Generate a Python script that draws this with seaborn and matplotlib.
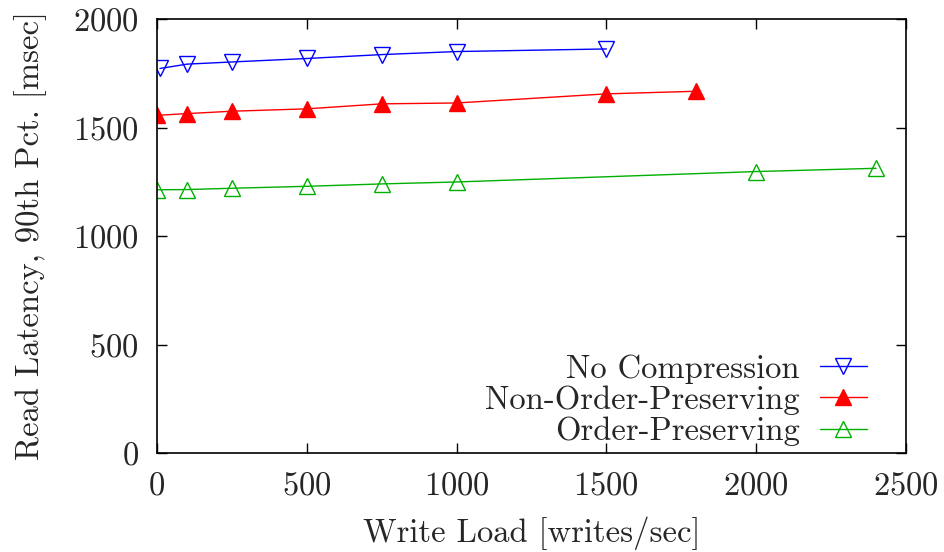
import matplotlib
matplotlib.use("Agg")
import matplotlib.pyplot as plt
import seaborn as sns

# write load [writes/sec] and read latency, 90th pct [msec]
load_none = [10, 100, 250, 500, 750, 1000, 1500]
lat_none = [1772, 1792, 1802, 1818, 1836, 1850, 1862]

load_nop = [0, 100, 250, 500, 750, 1000, 1500, 1800]
lat_nop = [1556, 1564, 1575, 1586, 1609, 1613, 1655, 1667]

load_op = [0, 100, 250, 500, 750, 1000, 2000, 2400]
lat_op = [1213, 1214, 1220, 1229, 1240, 1249, 1297, 1312]

x_ticks = [0, 500, 1000, 1500, 2000, 2500]
y_ticks = [0, 500, 1000, 1500, 2000]

FS = 23.5

sns.set_style("ticks")
plt.rcParams['font.family'] = ['cmr10', 'DejaVu Serif']
plt.rcParams['axes.formatter.use_mathtext'] = True
plt.rcParams['font.size'] = FS

fig = plt.figure(figsize=(9.44, 5.52), dpi=100)
ax = fig.add_axes([157 / 944, 1 - 453 / 552, 749 / 944, 434 / 552])

common = dict(ax=ax, linewidth=1.0, markersize=12, markeredgewidth=1.0)
sns.lineplot(x=load_none, y=lat_none, color='#0000ff', marker='v',
             markerfacecolor='none', markeredgecolor='#0000ff',
             label='No Compression', **common)
sns.lineplot(x=load_nop, y=lat_nop, color='#ff0000', marker='^',
             markerfacecolor='#ff0000', markeredgecolor='#ff0000',
             label='Non-Order-Preserving', **common)
sns.lineplot(x=load_op, y=lat_op, color='#00b000', marker='^',
             markerfacecolor='none', markeredgecolor='#00b000',
             label='Order-Preserving', **common)

ax.set_xlim(0, 2500)
ax.set_ylim(0, 2000)
ax.set_xticks(x_ticks)
ax.set_yticks(y_ticks)
ax.tick_params(direction='in', length=7, width=1, top=True, right=True,
               labelsize=FS, color='black')
ax.tick_params(axis='y', pad=13)
ax.tick_params(axis='x', pad=13)
for s in ax.spines.values():
    s.set_visible(True)
    s.set_linewidth(1.2)
    s.set_color('black')

ax.set_xlabel("Write Load [writes/sec]", fontsize=FS, labelpad=12)
ax.set_ylabel("Read Latency, 90th Pct. [msec]", fontsize=FS, labelpad=19)

ax.legend(loc='lower right', bbox_to_anchor=(867 / 944, 1 - 446 / 552),
          bbox_transform=fig.transFigure, frameon=False, markerfirst=False,
          fontsize=FS, handlelength=1.45, labelspacing=0.05,
          borderaxespad=0.0, borderpad=0.0, handletextpad=0.6)

fig.savefig("out.png", dpi=100)
